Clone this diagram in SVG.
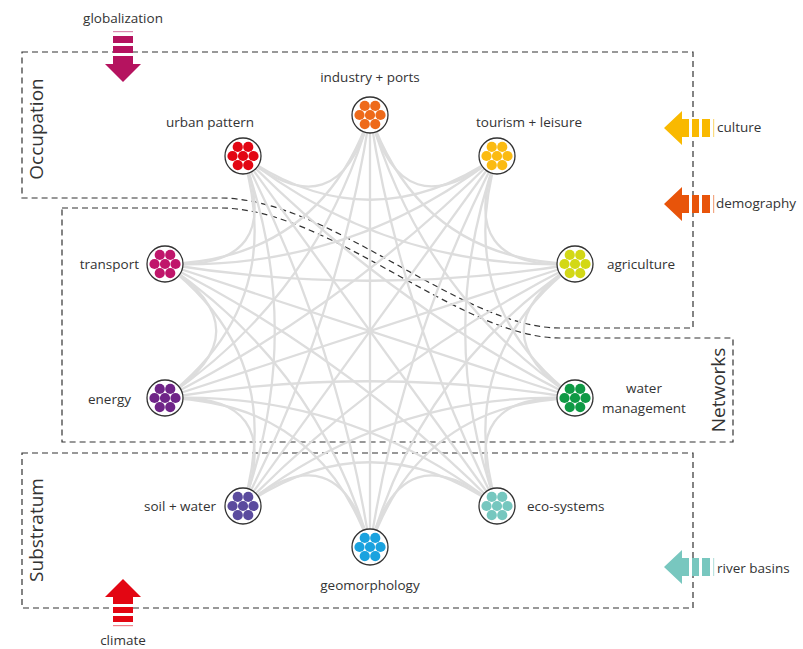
<svg xmlns="http://www.w3.org/2000/svg" xmlns:xlink="http://www.w3.org/1999/xlink" width="803" height="649" viewBox="0 0 803 649">
<style>
  .edge { fill: none; stroke: #dddddd; stroke-width: 2.3; }
  .box { fill: none; stroke: #333; stroke-width: 1.2; stroke-dasharray: 6 4; }
  .ring { fill: #fff; stroke: #333; stroke-width: 1.3; }
  .lbl { font-family: "Open Sans", "Liberation Sans", sans-serif; font-size: 13.5px; fill: #333; }
  .big { font-family: "Open Sans", "Liberation Sans", sans-serif; font-size: 19px; fill: #333; }
</style>
<defs>
  <g id="dots">
    <circle cx="0" cy="0" r="5.1"/>
    <circle cx="10.5" cy="0" r="5.1"/>
    <circle cx="-10.5" cy="0" r="5.1"/>
    <circle cx="5.25" cy="-9.1" r="5.1"/>
    <circle cx="-5.25" cy="-9.1" r="5.1"/>
    <circle cx="5.25" cy="9.1" r="5.1"/>
    <circle cx="-5.25" cy="9.1" r="5.1"/>
  </g>
  <g id="harrow">
    <path d="M0,0 L18,-17 V-9 H25 V9 H18 V17 Z"/>
    <rect x="28" y="-9" width="7" height="18"/>
    <rect x="38" y="-9" width="8" height="18"/>
    <rect x="49" y="-9" width="1.2" height="18" opacity="0.5"/>
  </g>
</defs>

<g id="boxes">
  <path class="box" d="M22,52 H693 V328 H560 C460,328 330,198 220,198 H22 Z"/>
  <path class="box" d="M62,208 H220 C330,208 460,338 560,338 H733 V442 H62 Z"/>
  <rect class="box" x="22" y="453" width="671" height="155"/>
  <text class="big" transform="translate(43,129) rotate(-90)" text-anchor="middle">Occupation</text>
  <text class="big" transform="translate(725,390) rotate(-90)" text-anchor="middle">Networks</text>
  <text class="big" transform="translate(43,530) rotate(-90)" text-anchor="middle">Substratum</text>
</g>

<g id="connectors">
  <path class="edge" d="M370,115 Q402,233 497,156"/>
  <path class="edge" d="M497,156 Q453,270.5 575,264"/>
  <path class="edge" d="M575,264 Q472.5,331 575,398"/>
  <path class="edge" d="M575,398 Q453,391.5 497,506"/>
  <path class="edge" d="M497,506 Q401.75,428.75 370,547"/>
  <path class="edge" d="M370,547 Q338.25,428.75 243,506"/>
  <path class="edge" d="M243,506 Q287,391.5 165,398"/>
  <path class="edge" d="M165,398 Q267.5,331 165,264"/>
  <path class="edge" d="M165,264 Q287,270.5 243,156"/>
  <path class="edge" d="M243,156 Q338.25,233.25 370,115"/>

  <path class="edge" d="M370,115 Q421.25,260.25 575,264"/>
  <path class="edge" d="M497,156 Q453,304 575,398"/>
  <path class="edge" d="M575,264 Q453,358 497,506"/>
  <path class="edge" d="M575,398 Q421.25,401.75 370,547"/>
  <path class="edge" d="M497,506 Q370,418.5 243,506"/>
  <path class="edge" d="M370,547 Q318.75,401.75 165,398"/>
  <path class="edge" d="M243,506 Q287,358 165,264"/>
  <path class="edge" d="M165,398 Q287,304 243,156"/>
  <path class="edge" d="M165,264 Q318.75,260.25 370,115"/>
  <path class="edge" d="M243,156 Q370,243.5 497,156"/>

  <path class="edge" d="M370,115 Q421.25,293.75 575,398"/>
  <path class="edge" d="M497,156 Q433.5,331 497,506"/>
  <path class="edge" d="M575,264 Q421.25,368.25 370,547"/>
  <path class="edge" d="M575,398 Q389.5,391.5 243,506"/>
  <path class="edge" d="M497,506 Q350.5,391.5 165,398"/>
  <path class="edge" d="M370,547 Q318.75,368.25 165,264"/>
  <path class="edge" d="M243,506 Q306.5,331 243,156"/>
  <path class="edge" d="M165,398 Q318.75,293.75 370,115"/>
  <path class="edge" d="M165,264 Q350.5,270.5 497,156"/>
  <path class="edge" d="M243,156 Q389.5,270.5 575,264"/>

  <path class="edge" d="M370,115 Q401.75,320.75 497,506"/>
  <path class="edge" d="M497,156 Q401.75,341.25 370,547"/>
  <path class="edge" d="M575,264 Q389.5,358 243,506"/>
  <path class="edge" d="M575,398 Q370,364.5 165,398"/>
  <path class="edge" d="M497,506 Q350.5,358 165,264"/>
  <path class="edge" d="M370,547 Q338.25,341.25 243,156"/>
  <path class="edge" d="M243,506 Q338.25,320.75 370,115"/>
  <path class="edge" d="M165,398 Q350.5,304 497,156"/>
  <path class="edge" d="M165,264 Q370,297.5 575,264"/>
  <path class="edge" d="M243,156 Q389.5,304 575,398"/>

  <path class="edge" d="M370,115 L370,547"/>
  <path class="edge" d="M497,156 L243,506"/>
  <path class="edge" d="M575,264 L165,398"/>
  <path class="edge" d="M575,398 L165,264"/>
  <path class="edge" d="M497,506 L243,156"/>
</g>

<g id="industry">
  <circle class="ring" cx="370" cy="115" r="18"/>
  <use xlink:href="#dots" href="#dots" x="370" y="115" fill="#ee6a1a"/>
  <text class="lbl" x="370" y="82" text-anchor="middle">industry + ports</text>
</g>
<g id="tourism">
  <circle class="ring" cx="497" cy="156" r="18"/>
  <use xlink:href="#dots" href="#dots" x="497" y="156" fill="#fbbb12"/>
  <text class="lbl" x="529" y="127" text-anchor="middle">tourism + leisure</text>
</g>
<g id="agriculture">
  <circle class="ring" cx="575" cy="264" r="18"/>
  <use xlink:href="#dots" href="#dots" x="575" y="264" fill="#d3d816"/>
  <text class="lbl" x="607" y="269">agriculture</text>
</g>
<g id="water-management">
  <circle class="ring" cx="575" cy="398" r="18"/>
  <use xlink:href="#dots" href="#dots" x="575" y="398" fill="#0f9a45"/>
  <text class="lbl" x="644" y="393" text-anchor="middle">water</text>
  <text class="lbl" x="644" y="413" text-anchor="middle">management</text>
</g>
<g id="eco-systems">
  <circle class="ring" cx="497" cy="506" r="18"/>
  <use xlink:href="#dots" href="#dots" x="497" y="506" fill="#76c7bf"/>
  <text class="lbl" x="527" y="511">eco-systems</text>
</g>
<g id="geomorphology">
  <circle class="ring" cx="370" cy="547" r="18"/>
  <use xlink:href="#dots" href="#dots" x="370" y="547" fill="#1aa2df"/>
  <text class="lbl" x="370" y="590" text-anchor="middle">geomorphology</text>
</g>
<g id="soil-water">
  <circle class="ring" cx="243" cy="506" r="18"/>
  <use xlink:href="#dots" href="#dots" x="243" y="506" fill="#5b4b9e"/>
  <text class="lbl" x="216" y="511" text-anchor="end">soil + water</text>
</g>
<g id="energy">
  <circle class="ring" cx="165" cy="398" r="18"/>
  <use xlink:href="#dots" href="#dots" x="165" y="398" fill="#6f2488"/>
  <text class="lbl" x="131" y="404" text-anchor="end">energy</text>
</g>
<g id="transport">
  <circle class="ring" cx="165" cy="264" r="18"/>
  <use xlink:href="#dots" href="#dots" x="165" y="264" fill="#c0166b"/>
  <text class="lbl" x="139" y="269" text-anchor="end">transport</text>
</g>
<g id="urban-pattern">
  <circle class="ring" cx="243" cy="156" r="18"/>
  <use xlink:href="#dots" href="#dots" x="243" y="156" fill="#e30613"/>
  <text class="lbl" x="210" y="127" text-anchor="middle">urban pattern</text>
</g>

<g id="globalization">
  <rect x="113" y="31" width="20" height="1.2" fill="#b5135f" opacity="0.5"/>
  <rect x="113" y="36" width="20" height="7" fill="#b5135f"/>
  <rect x="113" y="46" width="20" height="7" fill="#b5135f"/>
  <path d="M113,56 H133 V64 H141 L123,82 L105,64 H113 Z" fill="#b5135f"/>
  <text class="lbl" x="123" y="23" text-anchor="middle">globalization</text>
</g>
<g id="climate">
  <path d="M123,579 L141,597 H133 V604 H113 V597 H105 Z" fill="#e30613"/>
  <rect x="113" y="607" width="20" height="6" fill="#e30613"/>
  <rect x="113" y="616" width="20" height="6" fill="#e30613"/>
  <rect x="113" y="625" width="20" height="1.2" fill="#e30613" opacity="0.5"/>
  <text class="lbl" x="123" y="645" text-anchor="middle">climate</text>
</g>
<g id="culture">
  <use xlink:href="#harrow" href="#harrow" x="664" y="128" fill="#f9b900"/>
  <text class="lbl" x="717" y="132">culture</text>
</g>
<g id="demography">
  <use xlink:href="#harrow" href="#harrow" x="664" y="204" fill="#e8540a"/>
  <text class="lbl" x="716" y="208">demography</text>
</g>
<g id="river-basins">
  <use xlink:href="#harrow" href="#harrow" x="664" y="567" fill="#78c7bf"/>
  <text class="lbl" x="717" y="573">river basins</text>
</g>
</svg>
